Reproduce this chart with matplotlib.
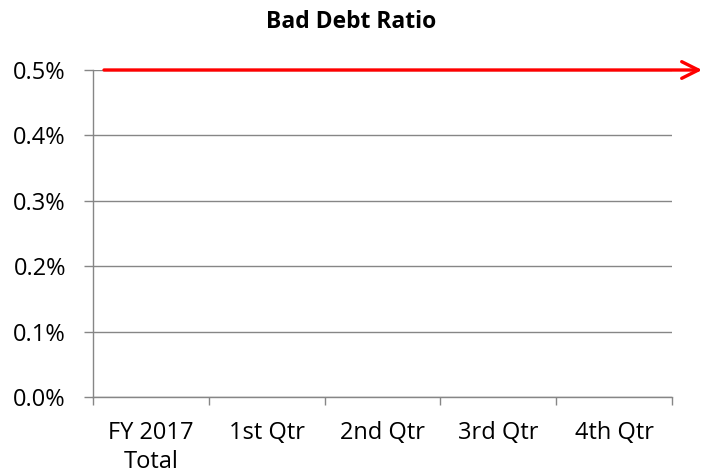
import matplotlib.pyplot as plt
from matplotlib.ticker import PercentFormatter

plt.rcParams['font.family'] = ['Open Sans', 'DejaVu Sans']

categories = ['FY 2017\nTotal', '1st Qtr', '2nd Qtr', '3rd Qtr', '4th Qtr']
ratio = [0.0, 0.0, 0.0, 0.0, 0.0]
target = 0.005
y_ticks = [0.0, 0.001, 0.002, 0.003, 0.004, 0.005]

W, H = 703, 476
fig = plt.figure(figsize=(W / 100, H / 100), dpi=100)
ax = fig.add_axes([93 / W, 1 - 397 / H, (672 - 93) / W, (397 - 70) / H])

x = range(len(categories))
ax.bar(x, ratio, width=0.6, color='#4f81bd')
ax.set_xlim(-0.5, len(categories) - 0.5)
ax.set_ylim(0, 0.005)
ax.set_yticks(y_ticks)
ax.yaxis.set_major_formatter(PercentFormatter(1.0, decimals=1))
ax.set_xticks(list(x))
ax.set_xticklabels(categories, fontsize=17, linespacing=1.28)
ax.set_xticks([i - 0.5 for i in range(len(categories) + 1)], minor=True)
ax.tick_params(axis='x', which='major', length=0, pad=17)
ax.tick_params(axis='x', which='minor', length=6, color='#868686', width=1)
ax.tick_params(axis='y', length=6.5, color='#868686', width=1, labelsize=17, pad=13)

ax.grid(axis='y', color='#868686', linewidth=1)
ax.set_axisbelow(True)
for side in ['top', 'right']:
    ax.spines[side].set_visible(False)
for side in ['left', 'bottom']:
    ax.spines[side].set_color('#868686')
    ax.spines[side].set_linewidth(1)

# target line with arrow running past the plot edge
ax.annotate('', xy=(1.052, target), xytext=(0.019, target),
            xycoords=('axes fraction', 'data'), textcoords=('axes fraction', 'data'),
            arrowprops=dict(arrowstyle='->', color='#ff0000', lw=2.4,
                            mutation_scale=30, shrinkA=0, shrinkB=0),
            annotation_clip=False)

fig.text(0.5, 1 - 28 / H, 'Bad Debt Ratio', ha='center', va='baseline',
         fontsize=16.5, fontweight='bold')

fig.savefig('out.png', dpi=100)
